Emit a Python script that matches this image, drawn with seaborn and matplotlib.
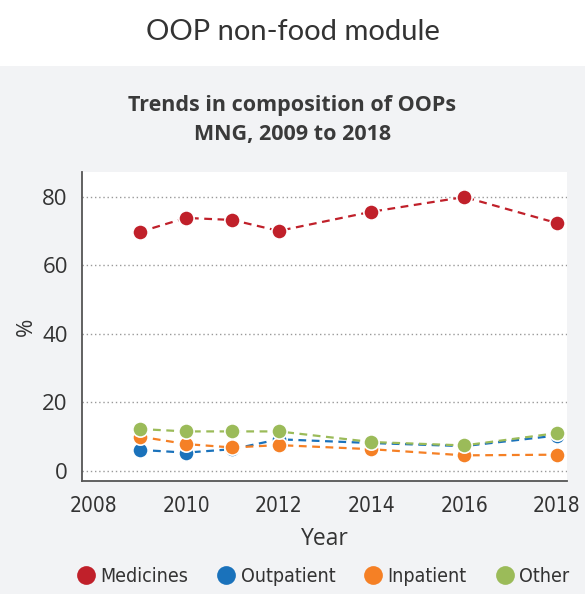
import numpy as np
import pandas as pd
import matplotlib
matplotlib.use("Agg")
import matplotlib.pyplot as plt
import seaborn as sns

years = [2009, 2010, 2011, 2012, 2014, 2016, 2018]
medicines = [69.8, 73.9, 73.3, 70.1, 75.7, 80.0, 72.4]
outpatient = [6.1, 5.3, 6.3, 9.2, 8.1, 7.2, 10.3]
inpatient = [10.0, 7.8, 6.8, 7.5, 6.3, 4.5, 4.7]
other = [12.2, 11.5, 11.5, 11.5, 8.4, 7.4, 11.0]

series = ["Medicines", "Outpatient", "Inpatient", "Other"]
colors = ["#c0202a", "#1a72bb", "#f58025", "#9bbb59"]

df = pd.DataFrame({
    "Year": years * 4,
    "pct": medicines + outpatient + inpatient + other,
    "Type": [s for s in series for _ in years],
})

sns.set_style("white")
plt.rcParams['font.family'] = ['DejaVu Sans']
plt.rcParams['font.stretch'] = 'condensed'

regular = ["Open Sans", "DejaVu Sans"]

fig = plt.figure(figsize=(5.85, 5.94), dpi=100)
fig.patch.set_facecolor("#f2f3f5")
# white strip for the module header
fig.add_artist(plt.Rectangle((0, 1 - 66 / 594), 1, 66 / 594, transform=fig.transFigure,
                             facecolor="white", edgecolor="none", zorder=0))
fig.text(0.5, 1 - 32 / 594, "OOP non-food module", ha="center", va="center",
         fontsize=21, color="#333333", family=["Lato", "DejaVu Sans"],
         weight="normal", stretch="normal")
fig.text(0.5, 1 - 120 / 594, "Trends in composition of OOPs\nMNG, 2009 to 2018",
         ha="center", va="center", fontsize=15.5, color="#3a3a3a", weight="bold",
         family=regular, stretch="normal", linespacing=1.45)

ax = fig.add_axes([0.1397, 0.1902, 0.8297, 0.5207])
ax.set_facecolor("white")

sns.lineplot(data=df, x="Year", y="pct", hue="Type", hue_order=series,
             palette=colors, marker="o", markersize=11, markeredgecolor="white",
             markeredgewidth=1.2, linestyle="--", linewidth=1.6, dashes=False,
             ax=ax, legend=False)
for line in ax.get_lines():
    line.set_linestyle((0, (3.5, 2.5)))

ax.set_xlim(2007.75, 2018.22)
ax.set_ylim(-3, 87.4)
ax.set_xticks([2008, 2010, 2012, 2014, 2016, 2018])
ax.set_yticks([0, 20, 40, 60, 80])
ax.yaxis.grid(True, linestyle=(0, (1, 2)), color="#999999", linewidth=1)
ax.set_axisbelow(True)

for s in ["top", "right"]:
    ax.spines[s].set_visible(False)
for s in ["left", "bottom"]:
    ax.spines[s].set_color("#555555")
    ax.spines[s].set_linewidth(1.3)

ax.tick_params(axis="both", direction="out", length=6, width=1, color="#aaaaaa",
               labelcolor="#333333")
ax.tick_params(axis="x", labelsize=15, pad=5)
ax.tick_params(axis="y", labelsize=16, pad=4)
for lbl in ax.get_yticklabels():
    lbl.set_family(regular)
    lbl.set_stretch("normal")
ax.set_xlabel("Year", fontsize=16.5, color="#333333", family=regular,
              stretch="normal", labelpad=8)
ax.set_ylabel("%", fontsize=16, color="#333333", family=regular,
              stretch="normal", labelpad=4)

handles = [plt.Line2D([], [], marker="o", linestyle="none", markersize=13.5,
                      markerfacecolor=c, markeredgecolor="none") for c in colors]
fig.legend(handles, series, loc="center", bbox_to_anchor=(0.549, 1 - 576 / 594),
           ncol=4, frameon=False, fontsize=14, handletextpad=0.1,
           columnspacing=1.3, labelcolor="#333333", handlelength=1.3)

fig.savefig("out.png", dpi=100, facecolor=fig.get_facecolor())
